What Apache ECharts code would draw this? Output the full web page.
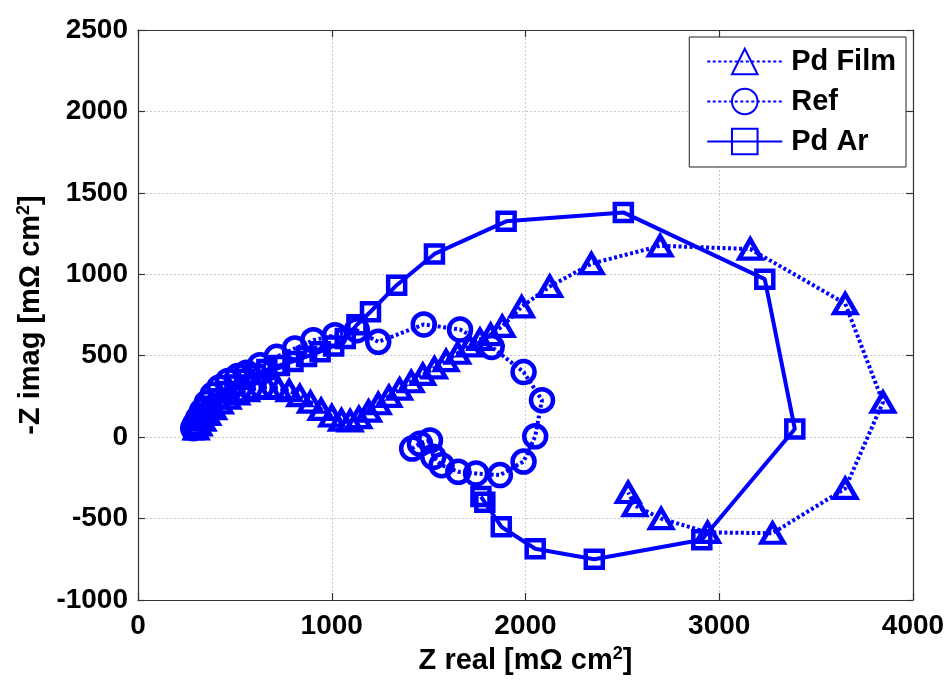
<!DOCTYPE html>
<html>
<head>
<meta charset="utf-8">
<script src="https://cdn.jsdelivr.net/npm/echarts@6/dist/echarts.min.js"></script>
<style>
  html, body { margin: 0; padding: 0; background: #fff; }
  #chart { width: 949px; height: 682px; }
</style>
</head>
<body>
<div id="chart"></div>
<script>
// Nyquist data, impedance in mOhm cm^2
const xTicks = [0, 1000, 2000, 3000, 4000];
const yTicks = [-1000, -500, 0, 500, 1000, 1500, 2000, 2500];

const pdFilmReal = [300, 315, 335, 360, 390, 425, 465, 510, 560, 615, 670, 725, 780, 835, 890, 945, 1000, 1050, 1095, 1140, 1190, 1240, 1295, 1350, 1410, 1470, 1530, 1590, 1650, 1710, 1765, 1820, 1880, 1980, 2125, 2340, 2695, 3160, 3650, 3845, 3650, 3275, 2940, 2700, 2565, 2530];
const pdFilmImag = [50, 75, 105, 140, 175, 210, 240, 265, 285, 300, 305, 300, 285, 255, 215, 170, 130, 105, 100, 120, 160, 205, 250, 295, 340, 385, 425, 470, 515, 560, 600, 630, 680, 800, 925, 1065, 1175, 1155, 820, 215, -315, -590, -585, -500, -420, -340];

const refReal = [285, 295, 310, 330, 355, 385, 420, 465, 515, 561, 630, 716, 810, 905, 1017, 1130, 1240, 1475, 1662, 1825, 1990, 2085, 2050, 1990, 1868, 1745, 1653, 1567, 1524, 1507, 1455, 1415];
const refImag = [55, 80, 115, 160, 210, 260, 305, 345, 375, 395, 442, 493, 545, 595, 626, 657, 585, 692, 661, 554, 400, 227, 5, -150, -233, -223, -213, -172, -121, -20, -40, -70];

const pdArReal = [290, 305, 325, 350, 380, 415, 455, 500, 550, 605, 665, 730, 800, 870, 940, 1010, 1070, 1130, 1200, 1335, 1530, 1900, 2505, 3235, 3390, 2910, 2355, 2050, 1875, 1790, 1770];
const pdArImag = [45, 70, 105, 145, 190, 235, 280, 320, 355, 385, 415, 440, 465, 495, 525, 560, 605, 690, 770, 933, 1125, 1325, 1380, 970, 50, -630, -750, -685, -550, -400, -365];

const seriesNames = ['Pd Film', 'Ref', 'Pd Ar'];

const pairs = (xs, ys) => xs.map((x, i) => [x, ys[i]]);
const BLUE = '#0000ff';
const FONT = '"Liberation Sans", Arial, sans-serif';
const dotted = [3, 2.5];

function makeSeries(name, xs, ys, symbol, size, lineType) {
  return {
    name: name,
    type: 'line',
    data: pairs(xs, ys),
    symbol: symbol,
    symbolSize: size,
    showAllSymbol: true,
    animation: false,
    lineStyle: { color: BLUE, width: 4, type: lineType },
    itemStyle: { color: 'rgba(255,255,255,0)', borderColor: BLUE, borderWidth: 4.5 },
    emphasis: { disabled: true }
  };
}

const axisLineStyle = { color: '#333', width: 1.2 };
const gridLine = { show: true, lineStyle: { color: '#c8c8c8', type: [2, 2], width: 1 } };
const tickFont = { fontFamily: FONT, fontWeight: 'bold', fontSize: 28, color: '#000' };
const titleRich = {
  t: { fontFamily: FONT, fontWeight: 'bold', fontSize: 29, color: '#000' },
  s: { fontFamily: FONT, fontWeight: 'bold', fontSize: 18, color: '#000', verticalAlign: 'top', padding: [0, 0, 14, 0] }
};

const chart = echarts.init(document.getElementById('chart'), null, { renderer: 'canvas' });
chart.setOption({
  backgroundColor: '#fff',
  animation: false,
  grid: { left: 138, right: 36, top: 30, bottom: 82, containLabel: false },
  legend: {
    right: 43,
    top: 37,
    orient: 'vertical',
    backgroundColor: '#fff',
    borderColor: '#222',
    borderWidth: 1,
    padding: [10, 10, 11, 17],
    itemWidth: 75,
    itemHeight: 32,
    itemGap: 11,
    textStyle: { fontFamily: FONT, fontWeight: 'bold', fontSize: 29, color: '#000', padding: [0, 0, 0, 4] },
    data: seriesNames
  },
  xAxis: [{
    type: 'value', min: 0, max: 4000, interval: 1000,
    position: 'bottom',
    name: '{t|Z real [mΩ cm}{s|2}{t|]}',
    nameLocation: 'middle', nameGap: 44,
    nameTextStyle: { rich: titleRich },
    axisLine: { show: true, onZero: false, lineStyle: axisLineStyle },
    axisTick: { show: true, inside: true, length: 7, lineStyle: axisLineStyle },
    axisLabel: Object.assign({ margin: 12, formatter: v => xTicks.includes(v) ? String(v) : '' }, tickFont),
    splitLine: gridLine
  }, {
    type: 'value', min: 0, max: 4000, interval: 1000,
    position: 'top',
    axisLine: { show: true, onZero: false, lineStyle: axisLineStyle },
    axisTick: { show: true, inside: true, length: 7, lineStyle: axisLineStyle },
    axisLabel: { show: false },
    splitLine: { show: false }
  }],
  yAxis: [{
    type: 'value', min: -1000, max: 2500, interval: 500,
    position: 'left',
    name: '{t|-Z imag [mΩ cm}{s|2}{t|]}',
    nameLocation: 'middle', nameGap: 91, nameRotate: 90,
    nameTextStyle: { rich: titleRich },
    axisLine: { show: true, onZero: false, lineStyle: axisLineStyle },
    axisTick: { show: true, inside: true, length: 7, lineStyle: axisLineStyle },
    axisLabel: Object.assign({ margin: 10, formatter: v => yTicks.includes(v) ? String(v) : '' }, tickFont),
    splitLine: gridLine
  }, {
    type: 'value', min: -1000, max: 2500, interval: 500,
    position: 'right',
    axisLine: { show: true, onZero: false, lineStyle: axisLineStyle },
    axisTick: { show: true, inside: true, length: 7, lineStyle: axisLineStyle },
    axisLabel: { show: false },
    splitLine: { show: false }
  }],
  series: [
    makeSeries(seriesNames[0], pdFilmReal, pdFilmImag, 'triangle', [22, 19], dotted),
    makeSeries(seriesNames[1], refReal, refImag, 'circle', 22, dotted),
    makeSeries(seriesNames[2], pdArReal, pdArImag, 'rect', 17, 'solid')
  ]
});
</script>
</body>
</html>
